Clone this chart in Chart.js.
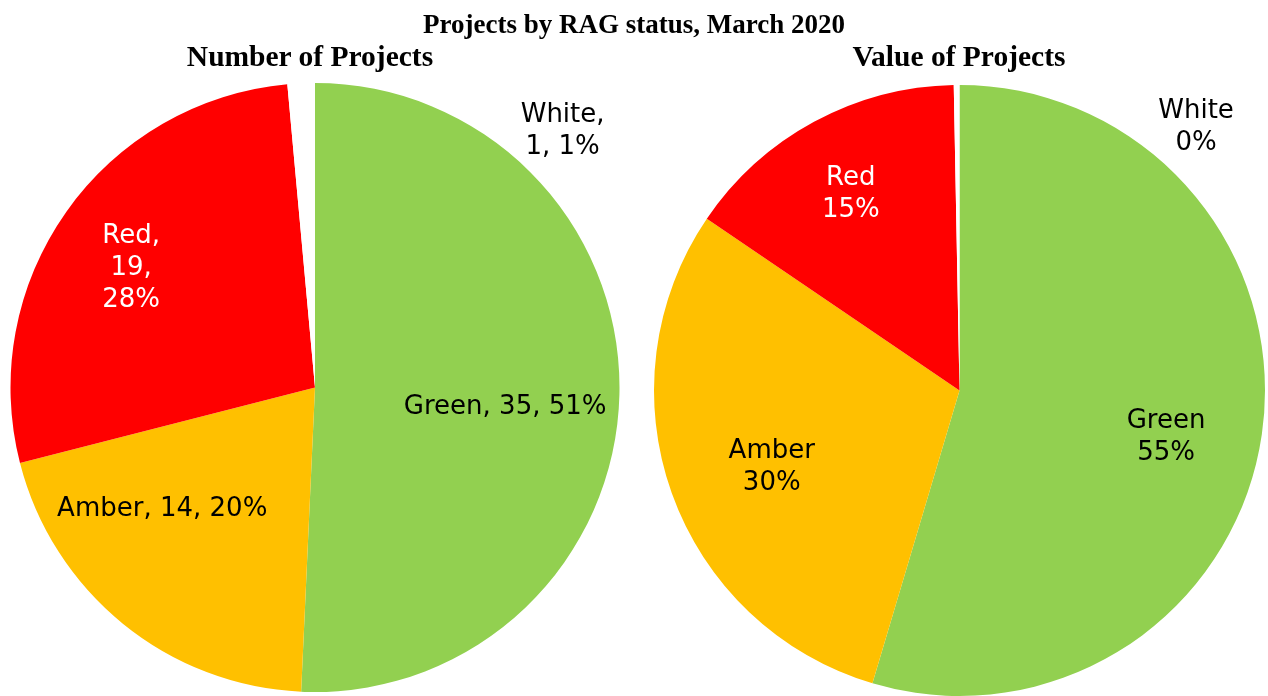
<!DOCTYPE html>
<html>
<head>
<meta charset="utf-8">
<script src="https://cdn.jsdelivr.net/npm/chart.js@4"></script>
<style>
  html, body { margin: 0; padding: 0; background: #fff; overflow: hidden; }
  #wrap { position: relative; width: 1268px; height: 696px; }
  canvas { position: absolute; top: 0; }
  .ttl { position: absolute; font-family: "Liberation Serif", "Times New Roman", serif; font-weight: bold; color: #000; white-space: nowrap; text-align: center; }
  #mainTitle { font-size: 27px; line-height: 27px; left: 0; width: 1268px; top: 10.7px; }
  .sub { font-size: 29.5px; line-height: 29.5px; top: 42.3px; width: 400px; }
</style>
</head>
<body>
<div id="wrap">
  <canvas id="pieCount" width="634" height="696" style="left:0"></canvas>
  <canvas id="pieValue" width="634" height="696" style="left:634px"></canvas>
  <div id="mainTitle" class="ttl">Projects by RAG status, March 2020</div>
  <div class="ttl sub" style="left:110px">Number of Projects</div>
  <div class="ttl sub" style="left:759px">Value of Projects</div>
</div>
<script>
// data
const categories = ["Green", "Amber", "Red", "White"];
const projectCounts = [35, 14, 19, 1];
const projectValues = [54.6, 29.9, 15.2, 0.3]; // % of total value
const sliceColors = ["#92D050", "#FFC000", "#FF0000", "#FFFFFF"];
const labelColors = ["#000", "#000", "#fff", "#000"];

// where each label sits: [degrees clockwise from 12 o'clock, fraction of radius]
const spotsCount = [[95.1, 0.627], [232.2, 0.635], [303.6, 0.725], [43.7, 1.177]];
const spotsValue = [[101.9, 0.691], [248.4, 0.661], [331.3, 0.741], [41.7, 1.164]];
// how label pieces are grouped into lines
const wrapCount = [[3], [3], [1, 1, 1], [1, 2]];
const wrapValue = [[1, 1], [1, 1], [1, 1], [1, 1]];

function pct(arr, i) {
  const total = arr.reduce((a, b) => a + b, 0);
  return Math.round(arr[i] / total * 100);
}

function groupLines(parts, sizes) {
  const out = [];
  let k = 0;
  sizes.forEach(n => {
    out.push(parts.slice(k, k + n).join(" "));
    k += n;
  });
  return out;
}

const countTexts = categories.map((c, i) =>
  groupLines([c + ",", projectCounts[i] + ",", pct(projectCounts, i) + "%"], wrapCount[i]));
const valueTexts = categories.map((c, i) =>
  groupLines([c, pct(projectValues, i) + "%"], wrapValue[i]));

const pieLabels = {
  id: "pieLabels",
  afterDatasetsDraw(chart, args, opts) {
    const ctx = chart.ctx;
    const arcs = chart.getDatasetMeta(0).data;
    const lh = 32, capH = 19;
    ctx.save();
    ctx.font = '26px "DejaVu Sans", Verdana, sans-serif';
    ctx.textAlign = "center";
    ctx.textBaseline = "alphabetic";
    arcs.forEach((arc, i) => {
      const lines = opts.texts[i];
      const a = opts.spots[i][0] * Math.PI / 180;
      const r = arc.outerRadius * opts.spots[i][1];
      const x = arc.x + r * Math.sin(a);
      const y = arc.y - r * Math.cos(a);
      ctx.fillStyle = labelColors[i];
      lines.forEach((t, k) => {
        ctx.fillText(t, x, y + (k - (lines.length - 1) / 2) * lh + capH / 2);
      });
    });
    ctx.restore();
  }
};

function makePie(id, values, padding, texts, spots) {
  return new Chart(document.getElementById(id), {
    type: "pie",
    data: {
      labels: categories,
      datasets: [{ data: values, backgroundColor: sliceColors, borderWidth: 0 }]
    },
    options: {
      responsive: false,
      animation: false,
      devicePixelRatio: 1,
      layout: { padding },
      plugins: {
        legend: { display: false },
        tooltip: { enabled: false },
        pieLabels: { texts, spots }
      }
    },
    plugins: [pieLabels]
  });
}

makePie("pieCount", projectCounts, { left: 10, top: 83, right: 14, bottom: 4 }, countTexts, spotsCount);
makePie("pieValue", projectValues, { left: 20, top: 85, right: 3, bottom: 0 }, valueTexts, spotsValue);
</script>
</body>
</html>
